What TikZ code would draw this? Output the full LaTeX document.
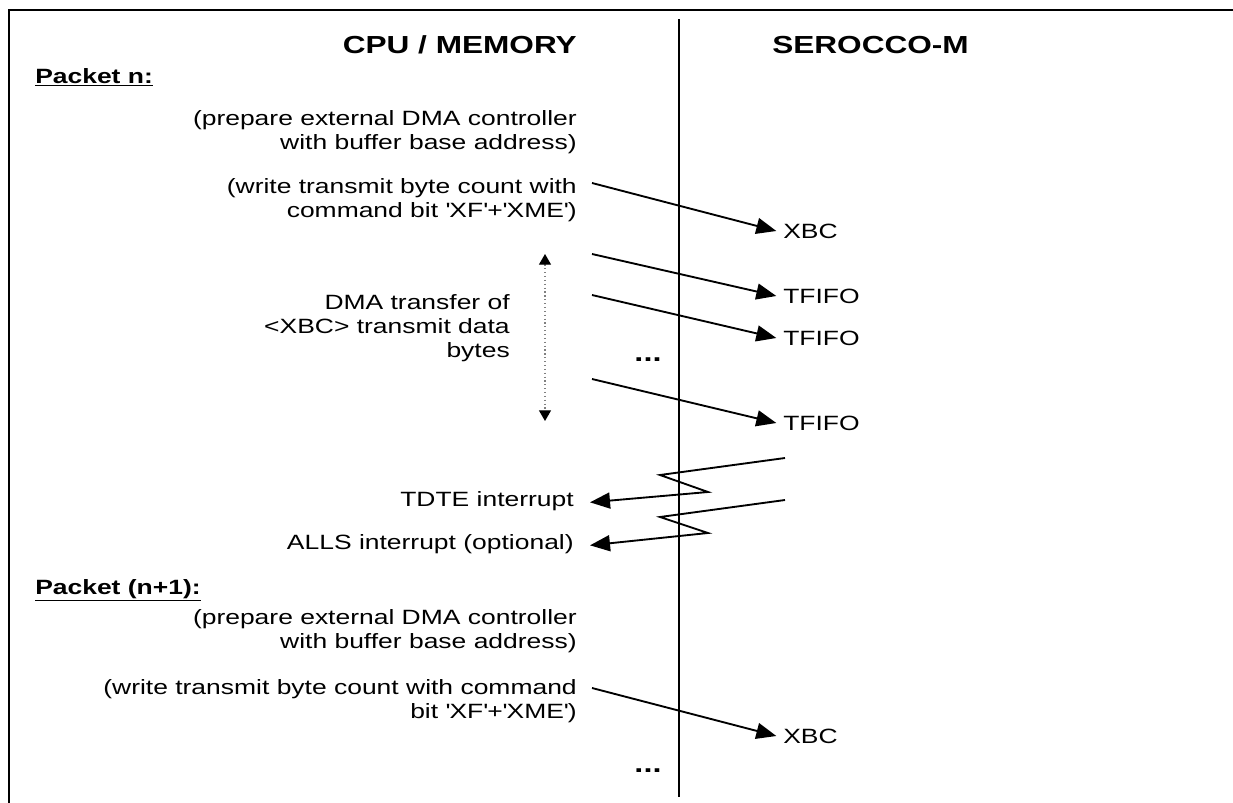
\documentclass[tikz,border=0pt]{standalone}
\usepackage{fontspec}
\setmainfont[FakeStretch=1.28]{Liberation Sans}
\usetikzlibrary{arrows.meta}
\newcommand{\q}{\textquotesingle}
\begin{document}
\begin{tikzpicture}[x=0.75pt,y=-0.75pt,
  txt/.style={font=\fontsize{15.5}{18}\selectfont, inner sep=0pt},
  hd/.style={font=\fontsize{18.5}{22}\selectfont\bfseries, inner sep=0pt},
  pk/.style={font=\fontsize{15.5}{18}\selectfont\bfseries, inner sep=0pt},
  dt/.style={font=\fontsize{19}{20}\selectfont\bfseries, inner sep=0pt},
  msg/.style={line width=1.4pt, -{Triangle[length=15pt,width=12pt]}},
  frameline/.style={line width=1.6pt},
  ]
\useasboundingbox (0,0) rectangle (1233,803);
% frame and divider
\draw[frameline] (9,803) -- (9,10) -- (1233,10);
\coordinate (dtop) at (679,19);
\coordinate (dbot) at (679,797);
\draw[line width=1.3pt] (dtop) -- (dbot);

% headers
\node[hd, anchor=east] (cpu) at (577,45) {CPU / MEMORY};
\node[hd, anchor=west] (ser) at (772,45) {SEROCCO-M};

% packet n
\node[pk, anchor=west] (pn) at (35,77) {\underline{Packet n:}};
\node[txt, anchor=east, align=right] (prep1) at (577,132) {(prepare external DMA controller\\with buffer base address)};
\node[txt, anchor=east, align=right] (wr1) at (577,200) {(write transmit byte count with\\command bit \q XF\q +\q XME\q )};
\node[txt, anchor=west] (xbc1) at (783,231) {XBC};
\coordinate (a1s) at (592,183);
\draw[msg] (a1s) -- ([xshift=-5]xbc1.west);

% DMA transfer
\node[txt, anchor=east, align=right] (dma) at (510,328) {DMA transfer of\\<XBC> transmit data\\bytes};
\coordinate (dmt) at (545,254);
\coordinate (dmb) at (545,421);
\draw[gray, dotted, line width=0.9pt, {Triangle[length=8pt,width=9pt,color=black]}-{Triangle[length=8pt,width=9pt,color=black]}] (dmt) -- (dmb);

\node[txt, anchor=west] (tf1) at (783,296) {TFIFO};
\node[txt, anchor=west] (tf2) at (783,338) {TFIFO};
\node[txt, anchor=west] (tf3) at (783,423) {TFIFO};
\coordinate (a2s) at (592,254);
\coordinate (a3s) at (592,295);
\coordinate (a4s) at (592,379);
\draw[msg] (a2s) -- ([xshift=-5]tf1.west);
\draw[msg] (a3s) -- ([xshift=-5]tf2.west);
\draw[msg] (a4s) -- ([xshift=-5]tf3.west);
\node[dt, anchor=center] (dots1) at (648,360) {...};

% interrupts
\node[txt, anchor=east] (tdte) at (574,501) {TDTE interrupt};
\node[txt, anchor=east] (alls) at (574,544) {ALLS interrupt (optional)};
\coordinate (z1s) at (785,458);
\coordinate (z1a) at (660,475);
\coordinate (z1b) at (708,492);
\coordinate (z2s) at (785,500);
\coordinate (z2a) at (660,517);
\coordinate (z2b) at (708,533);
\draw[msg] (z1s) -- (z1a) -- (z1b) -- ([xshift=12,yshift=-1]tdte.east);
\draw[msg] (z2s) -- (z2a) -- (z2b) -- ([xshift=12,yshift=-1]alls.east);

% packet n+1
\node[pk, anchor=west] (pn1) at (35,590) {\underline{Packet (n+1):}};
\node[txt, anchor=east, align=right] (prep2) at (577,631) {(prepare external DMA controller\\with buffer base address)};
\node[txt, anchor=east, align=right] (wr2) at (577,701) {(write transmit byte count with command\\bit \q XF\q +\q XME\q )};
\node[txt, anchor=west] (xbc2) at (783,736) {XBC};
\coordinate (a5s) at (592,688);
\draw[msg] (a5s) -- ([xshift=-5]xbc2.west);
\node[dt, anchor=center] (dots2) at (648,771) {...};
\end{tikzpicture}
\end{document}
